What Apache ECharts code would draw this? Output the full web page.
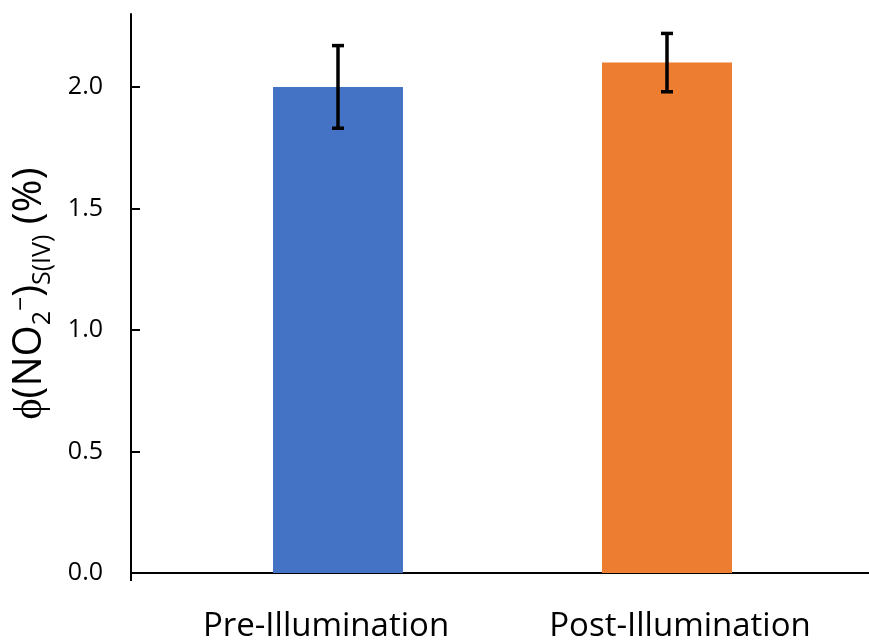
<!DOCTYPE html>
<html>
<head>
<meta charset="utf-8">
<script src="https://cdn.jsdelivr.net/npm/echarts@6/dist/echarts.min.js"></script>
<style>html,body{margin:0;padding:0;background:#fff}#c{width:869px;height:640px}</style>
</head>
<body>
<div id="c"></div>
<script>
const categories = ['Pre-Illumination', 'Post-Illumination'];
const values = [2.0, 2.1];
const errors = [0.17, 0.12];
const barColors = ['#4472C4', '#ED7D31'];
const yTicks = [0, 0.5, 1.0, 1.5, 2.0];

const FONT = '"Open Sans"';
const chart = echarts.init(document.getElementById('c'), null, {renderer: 'canvas'});
const yMax = 2.3;
chart.setOption({
  animation: false,
  backgroundColor: '#fff',
  grid: [
    {left: 173.5, right: 37.5, top: 14, bottom: 67, outerBoundsMode: 'none', containLabel: false},
    {left: 131, right: 0, top: 14, bottom: 67, outerBoundsMode: 'none', containLabel: false},
    {left: 149, right: 12, top: 14, bottom: 67, outerBoundsMode: 'none', containLabel: false}
  ],
  xAxis: [
    {
      gridIndex: 0, type: 'category', data: categories,
      axisLine: {show: false}, axisTick: {show: false}, axisLabel: {show: false}
    },
    {
      gridIndex: 1, type: 'value', min: 0, max: 1,
      axisLine: {show: true, lineStyle: {color: '#000', width: 2}},
      axisTick: {show: true, length: 8, customValues: [0], lineStyle: {color: '#000', width: 2}},
      axisLabel: {show: false}, splitLine: {show: false}
    },
    {
      gridIndex: 2, type: 'category', data: categories,
      axisLine: {show: false}, axisTick: {show: false},
      axisLabel: {fontFamily: FONT, fontSize: 33, color: '#000', margin: 37, interval: 0, hideOverlap: false}
    }
  ],
  yAxis: [
    {gridIndex: 0, type: 'value', min: 0, max: yMax, show: false, splitLine: {show: false}},
    {
      gridIndex: 1, type: 'value', min: 0, max: yMax, interval: 0.5,
      axisLine: {show: true, lineStyle: {color: '#000', width: 2}},
      axisTick: {show: true, inside: true, length: 9, customValues: yTicks, lineStyle: {color: '#000', width: 2}},
      axisLabel: {customValues: yTicks, fontFamily: FONT, fontSize: 25, color: '#000', margin: 28,
        formatter: v => v.toFixed(1)},
      splitLine: {show: false},
      name: '{m|ϕ(NO}{s|2}{p|−}{m|)}{s|S(IV)}{m| (%)}',
      nameLocation: 'middle', nameRotate: 90, nameGap: 76,
      nameTextStyle: {
        fontFamily: FONT, color: '#000',
        rich: {
          m: {fontFamily: FONT, fontSize: 40, lineHeight: 50, color: '#000'},
          s: {fontFamily: FONT, fontSize: 25, lineHeight: 25, verticalAlign: 'bottom', color: '#000'},
          p: {fontFamily: FONT, fontSize: 25, lineHeight: 25, verticalAlign: 'top', color: '#000', padding: [4, 0, 0, 0]}
        }
      }
    },
    {gridIndex: 2, type: 'value', min: 0, max: yMax, show: false, splitLine: {show: false}}
  ],
  series: [
    {
      type: 'bar', xAxisIndex: 0, yAxisIndex: 0, barWidth: '39.5%',
      data: values.map((v, i) => ({value: v, itemStyle: {color: barColors[i]}}))
    },
    {
      type: 'custom', xAxisIndex: 0, yAxisIndex: 0, z: 10,
      data: values.map((v, i) => [i, v - errors[i], v + errors[i]]),
      renderItem: function (params, api) {
        const x = api.value(0);
        const lo = api.coord([x, api.value(1)]);
        const hi = api.coord([x, api.value(2)]);
        const hw = 6;
        const st = {stroke: '#000', lineWidth: 3.5};
        return {
          type: 'group',
          children: [
            {type: 'line', shape: {x1: lo[0], y1: lo[1], x2: hi[0], y2: hi[1]}, style: st},
            {type: 'line', shape: {x1: lo[0] - hw, y1: lo[1], x2: lo[0] + hw, y2: lo[1]}, style: st},
            {type: 'line', shape: {x1: hi[0] - hw, y1: hi[1], x2: hi[0] + hw, y2: hi[1]}, style: st}
          ]
        };
      }
    }
  ]
});
</script>
</body>
</html>
